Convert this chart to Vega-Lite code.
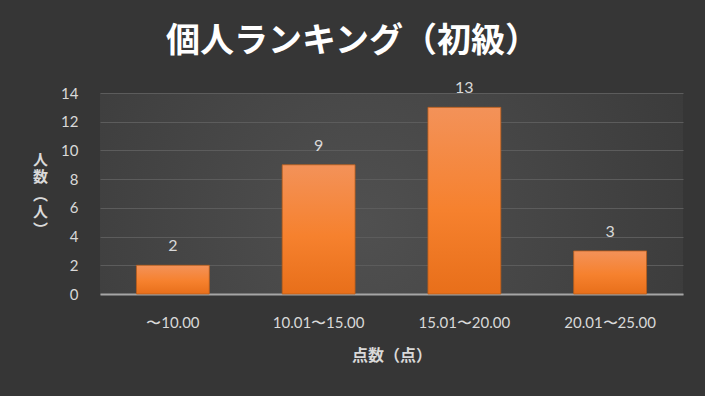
{
  "$schema": "https://vega.github.io/schema/vega-lite/v6.json",
  "width": 583,
  "height": 201,
  "autosize": {"type": "none"},
  "padding": {"left": 100, "top": 93, "right": 22, "bottom": 102},
  "background": "#363636",
  "config": {
    "view": {
      "stroke": null,
      "fill": {
        "gradient": "radial",
        "x1": 0.45, "y1": 0.55, "r1": 0,
        "x2": 0.45, "y2": 0.55, "r2": 0.75,
        "stops": [
          {"offset": 0, "color": "#505050"},
          {"offset": 1, "color": "#363636"}
        ]
      }
    },
    "font": "Noto Sans CJK JP"
  },
  "title": {
    "text": "個人ランキング（初級）",
    "font": "Noto Sans CJK JP",
    "fontSize": 34,
    "fontWeight": "bold",
    "color": "#ffffff",
    "anchor": "middle",
    "dx": -39,
    "offset": 21
  },
  "data": {
    "values": [
      {"range": "〜10.00", "count": 2},
      {"range": "10.01〜15.00", "count": 9},
      {"range": "15.01〜20.00", "count": 13},
      {"range": "20.01〜25.00", "count": 3}
    ]
  },
  "encoding": {
    "x": {
      "field": "range",
      "type": "nominal",
      "sort": null,
      "scale": {"paddingInner": 0.5, "paddingOuter": 0.25},
      "axis": {
        "title": "点数（点）",
        "labelAngle": 0,
        "ticks": false,
        "labelPadding": 21,
        "labelFont": "Lato",
        "labelFontSize": 15,
        "labelColor": "#d9d9d9",
        "domainColor": "#a6a6a6",
        "domainWidth": 2,
        "titleFont": "Noto Sans CJK JP",
        "titleFontSize": 16,
        "titleFontWeight": "bold",
        "titleColor": "#d9d9d9",
        "titleBaseline": "middle",
        "titleY": 61
      }
    },
    "y": {
      "field": "count",
      "type": "quantitative",
      "scale": {"domain": [0, 14]},
      "axis": {
        "values": [0, 2, 4, 6, 8, 10, 12, 14],
        "title": ["人", "数", "︵", "人", "︶"],
        "titleAngle": 0,
        "titleX": -60,
        "titleY": 66,
        "titleAlign": "center",
        "titleBaseline": "middle",
        "titleLineHeight": 17.5,
        "titleFont": "Noto Sans CJK JP",
        "titleFontSize": 15,
        "titleFontWeight": "bold",
        "titleColor": "#d9d9d9",
        "domain": false,
        "ticks": false,
        "labelPadding": 22,
        "labelFont": "Lato",
        "labelFontSize": 15,
        "labelColor": "#d9d9d9",
        "gridColor": "#5c5c5c",
        "gridWidth": 1
      }
    }
  },
  "layer": [
    {
      "mark": {
        "type": "bar",
        "stroke": "#b85d1c",
        "strokeWidth": 0.8,
        "fill": {
          "gradient": "linear",
          "x1": 0, "y1": 0, "x2": 0, "y2": 1,
          "stops": [
            {"offset": 0, "color": "#f39259"},
            {"offset": 0.55, "color": "#f6812e"},
            {"offset": 1, "color": "#e86f1a"}
          ]
        }
      }
    },
    {
      "mark": {
        "type": "text",
        "dy": -19,
        "baseline": "middle",
        "font": "Lato",
        "fontSize": 16,
        "color": "#d9d9d9"
      },
      "encoding": {"text": {"field": "count", "type": "quantitative"}}
    }
  ]
}
